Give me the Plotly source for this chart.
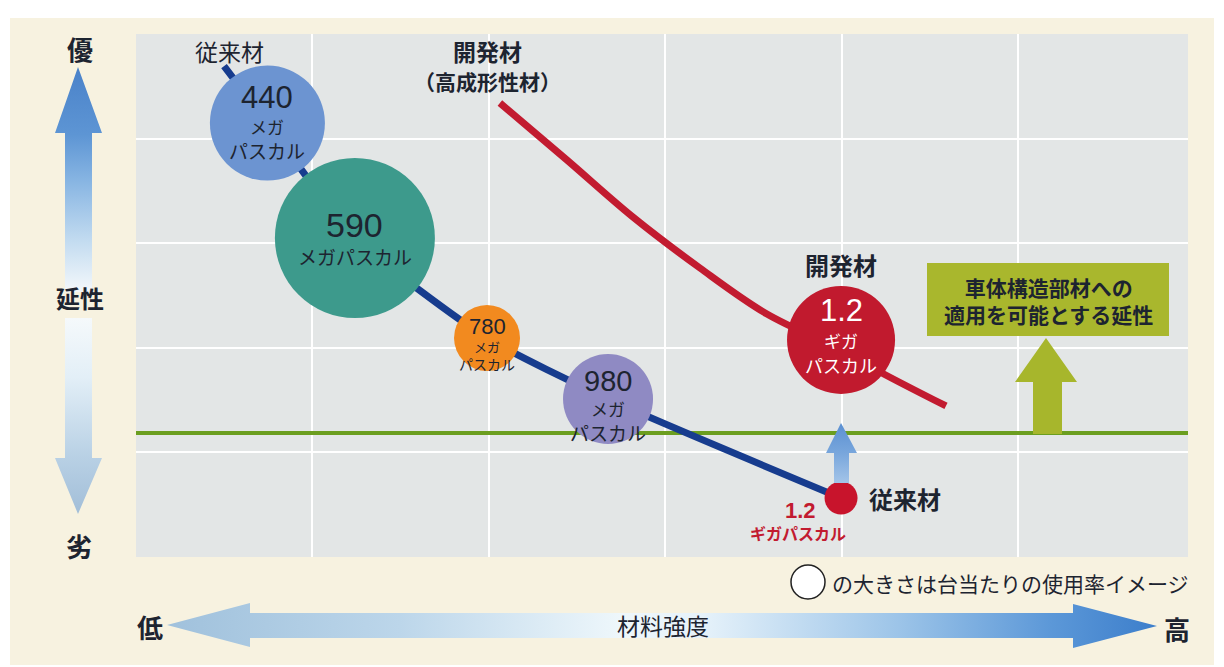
import plotly.graph_objects as go

W, H = 1224, 667

# ---------------- data (arbitrary units: x = material strength, y = ductility) ----------------
grade_labels = ["440", "590", "780", "980"]
grade_units = [["メガ", "パスカル"], ["メガパスカル"], ["メガ", "パスカル"], ["メガ", "パスカル"]]
grade_x = [0.745, 1.241, 1.990, 2.676]
grade_y = [4.149, 3.050, 2.094, 1.511]
grade_usage = [115, 160, 66, 90]          # bubble size = usage rate per vehicle (image)
grade_colors = ["#6c94d1", "#3d9a8c", "#f28a1f", "#8f8ac3"]

conv_line_x = [0.499, 0.745, 1.241, 1.990, 2.676, 3.997]
conv_line_y = [4.694, 4.149, 3.050, 2.094, 1.511, 0.564]

dev_line_x = [2.063, 2.443, 2.817, 3.197, 3.577, 3.997, 4.218, 4.592]
dev_line_y = [4.340, 3.795, 3.250, 2.763, 2.323, 1.979, 1.769, 1.444]

giga_x = 3.997
dev_giga_y = 2.075
dev_giga_usage = 108
conv_giga_y = 0.564
conv_giga_usage = 33

required_ductility = 1.185
x_max = 5.964
y_max = 5.0

# ---------------- styling ----------------
JP = "Noto Sans CJK JP"
NUM = "Liberation Sans, Noto Sans CJK JP"
TXT = "#1d2430"
CREAM = "#f7f2e0"
PLOTBG = "#e3e6e6"

fig = go.Figure()

# threshold (required ductility)
fig.add_trace(go.Scatter(x=[0, x_max], y=[required_ductility, required_ductility], mode="lines",
                         line=dict(color="#6b9e1f", width=4), hoverinfo="skip", xaxis="x", yaxis="y"))
# conventional material curve
fig.add_trace(go.Scatter(x=conv_line_x, y=conv_line_y, mode="lines",
                         line=dict(color="#173c8e", width=7, shape="spline", smoothing=0.6),
                         hoverinfo="skip"))
# developed material curve
fig.add_trace(go.Scatter(x=dev_line_x, y=dev_line_y, mode="lines",
                         line=dict(color="#c21b30", width=7, shape="spline"),
                         hoverinfo="skip"))
# grade bubbles
fig.add_trace(go.Scatter(x=grade_x, y=grade_y, mode="markers",
                         marker=dict(size=grade_usage, color=grade_colors, opacity=1, line=dict(width=0)),
                         hoverinfo="skip"))
# developed 1.2 GPa
fig.add_trace(go.Scatter(x=[giga_x], y=[dev_giga_y], mode="markers",
                         marker=dict(size=dev_giga_usage, color="#c11a2e", line=dict(width=0)),
                         hoverinfo="skip"))
# conventional 1.2 GPa
fig.add_trace(go.Scatter(x=[giga_x], y=[conv_giga_y], mode="markers",
                         marker=dict(size=conv_giga_usage, color="#c8142c", line=dict(width=0)),
                         hoverinfo="skip"))

# ---------------- decorations in a pixel-space overlay (x2/y2) ----------------
def py(v):
    return H - v

def poly(xs, ys, **kw):
    fig.add_trace(go.Scatter(x=xs + [xs[0]], y=[py(v) for v in ys + [ys[0]]], mode="lines",
                             fill="toself", line=dict(width=0), hoverinfo="skip",
                             xaxis="x2", yaxis="y2", **kw))

# up arrow (ductility good)
poly([78, 102, 92, 92, 65, 65, 55], [67, 133, 133, 292, 292, 133, 133],
     fillgradient=dict(type="vertical",
                       colorscale=[[0, "#f4f8fb"], [0.23, "#c2dbf0"], [0.5, "#86b4e2"],
                                   [0.7, "#5d95d4"], [1, "#4a82c9"]]))
# down arrow
poly([65, 92, 92, 102, 78, 55, 65], [318, 318, 458, 458, 514, 458, 458],
     fillgradient=dict(type="vertical",
                       colorscale=[[0, "#a2bed8"], [0.3, "#b9d1e5"], [0.7, "#e3eff7"], [1, "#f5f9fb"]]))
# horizontal double arrow
poly([167, 250, 250, 1073, 1073, 1157, 1073, 1073, 250, 250],
     [625, 603, 613, 613, 604, 626, 648, 638, 638, 647],
     fillgradient=dict(type="horizontal",
                       colorscale=[[0, "#a0c1dc"], [0.235, "#bcd6ea"], [0.458, "#eef7fb"],
                                   [0.54, "#e6f2fa"], [0.74, "#9cc4e8"], [0.892, "#5c98d8"],
                                   [1, "#3c7ecb"]]))
# small blue arrow above conventional 1.2 GPa
poly([834, 834, 826, 841, 857, 849, 849], [483, 453, 453, 423, 453, 453, 483],
     fillgradient=dict(type="vertical",
                       colorscale=[[0, "#a3c4e8"], [0.5, "#78a6dc"], [1, "#5b90d2"]]))
# olive arrow
poly([1033, 1033, 1015, 1046, 1077, 1062, 1062], [434, 382, 382, 338, 382, 382, 434],
     fillcolor="#a7b62c")

shapes = [
    dict(type="rect", xref="paper", yref="paper", x0=10 / W, x1=1214 / W, y0=2 / H, y1=(H - 18) / H,
         fillcolor=CREAM, line=dict(width=0), layer="below"),
    dict(type="rect", xref="x", yref="y", x0=0, x1=x_max, y0=0, y1=y_max,
         fillcolor=PLOTBG, line=dict(width=0), layer="below"),
    dict(type="rect", xref="x2", yref="y2", x0=927, x1=1169, y0=py(336), y1=py(263),
         fillcolor="#a9b72d", line=dict(width=0), layer="above"),
    dict(type="circle", xref="x2", yref="y2", x0=791, x1=825, y0=py(599), y1=py(565),
         fillcolor="white", line=dict(color="#222", width=1.5), layer="above"),
]

ann = []

def a_data(x, y, text, size, color=TXT, family=JP, xshift=0, yshift=0, bold=False):
    ann.append(dict(x=x, y=y, xref="x", yref="y", text=("<b>%s</b>" % text) if bold else text,
                    showarrow=False, xshift=xshift, yshift=yshift,
                    font=dict(family=family, size=size, color=color)))

def a_px(x, y, text, size, color=TXT, family=JP, bold=False, xanchor="center"):
    ann.append(dict(x=x, y=py(y), xref="x2", yref="y2", text=("<b>%s</b>" % text) if bold else text,
                    showarrow=False, xanchor=xanchor,
                    font=dict(family=family, size=size, color=color)))

# bubble texts: (yshift, font size) for number and unit lines
grade_text_style = [
    [(26, 31), (-3, 17), (-27, 19)],
    [(13, 34), (-19, 19)],
    [(11, 22), (-9, 13), (-26, 14)],
    [(18, 29), (-10, 17), (-34, 19)],
]
for i, lab in enumerate(grade_labels):
    st = grade_text_style[i]
    a_data(grade_x[i], grade_y[i], lab, st[0][1], family=NUM, yshift=st[0][0])
    for j, u in enumerate(grade_units[i]):
        a_data(grade_x[i], grade_y[i], u, st[j + 1][1], yshift=st[j + 1][0])

# developed 1.2 GPa bubble texts
a_data(giga_x, dev_giga_y, "1.2", 31, color="white", family=NUM, yshift=29)
a_data(giga_x, dev_giga_y, "ギガ", 17, color="white", yshift=-1)
a_data(giga_x, dev_giga_y, "パスカル", 18, color="white", yshift=-25)
a_data(giga_x, dev_giga_y, "開発材", 24, bold=True, yshift=75)

# conventional 1.2 GPa texts
a_data(giga_x, conv_giga_y, "従来材", 24, bold=True, xshift=64)
a_data(giga_x, conv_giga_y, "1.2", 22, color="#c21b30", family=NUM, bold=True, xshift=-41, yshift=-12)
a_data(giga_x, conv_giga_y, "ギガパスカル", 16, color="#c21b30", bold=True, xshift=-43, yshift=-35)

# curve labels
a_data(conv_line_x[0], conv_line_y[0], "従来材", 23, xshift=5, yshift=15)
a_data(dev_line_x[0], dev_line_y[0], "開発材", 23, bold=True, xshift=-12, yshift=52)
a_data(dev_line_x[0], dev_line_y[0], "（高成形性材）", 21, bold=True, xshift=-12, yshift=22)

# box text (two lines in one label)
a_px(1048, 300, "車体構造部材への<br>適用を可能とする延性", 21, bold=True)

# axes words
a_px(80, 48, "優", 26, bold=True)
a_px(80, 297, "延性", 24, bold=True)
a_px(79, 545, "劣", 26, bold=True)
a_px(150, 626, "低", 26, bold=True)
a_px(1177, 628, "高", 26, bold=True)
a_px(663, 625, "材料強度", 23)
a_px(830, 583, "の大きさは台当たりの使用率イメージ", 21, xanchor="left")

fig.update_layout(
    width=W, height=H,
    margin=dict(l=0, r=0, t=0, b=0),
    paper_bgcolor="white",
    plot_bgcolor="rgba(0,0,0,0)",
    showlegend=False,
    xaxis=dict(domain=[136 / W, 1188 / W], range=[0, x_max], dtick=1, tick0=0,
               showgrid=True, gridcolor="white", gridwidth=2, zeroline=False,
               showticklabels=False, showline=False, ticks="", fixedrange=True),
    yaxis=dict(domain=[(H - 557) / H, (H - 34) / H], range=[0, y_max], dtick=1, tick0=0,
               showgrid=True, gridcolor="white", gridwidth=2, zeroline=False,
               showticklabels=False, showline=False, ticks="", fixedrange=True),
    xaxis2=dict(domain=[0, 1], range=[0, W], visible=False, anchor="y2", fixedrange=True),
    yaxis2=dict(domain=[0, 1], range=[0, H], visible=False, anchor="x2", fixedrange=True),
    shapes=shapes,
    annotations=ann,
)

fig.write_html("out.html", config={"displayModeBar": False},
               post_script="document.body.style.margin='0px';")
